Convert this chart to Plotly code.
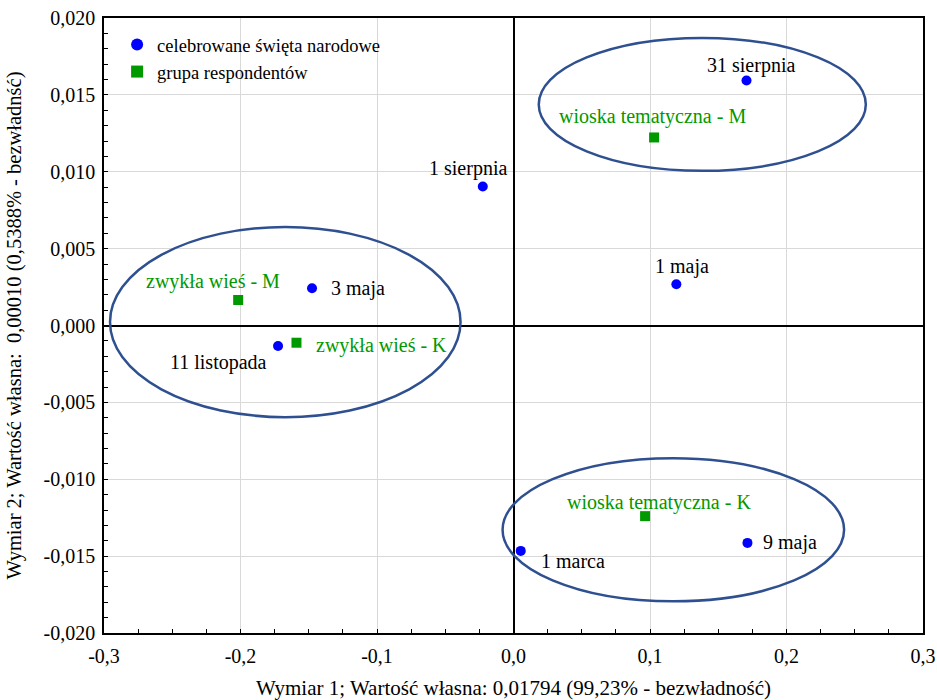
import plotly.graph_objects as go

# Data
holiday_names = ["31 sierpnia", "1 sierpnia", "1 maja", "3 maja", "11 listopada", "1 marca", "9 maja"]
holiday_x = [0.1707, -0.0225, 0.1193, -0.1476, -0.1725, 0.0053, 0.1714]
holiday_y = [0.01594, 0.00904, 0.00268, 0.00242, -0.00133, -0.01466, -0.01414]

group_names = ["wioska tematyczna - M", "zwykła wieś - M", "zwykła wieś - K", "wioska tematyczna - K"]
group_x = [0.1030, -0.2017, -0.1590, 0.0964]
group_y = [0.01223, 0.00166, -0.00112, -0.0124]

x_tickvals = [-0.3, -0.2, -0.1, 0.0, 0.1, 0.2, 0.3]
x_ticktext = ["-0,3", "-0,2", "-0,1", "0,0", "0,1", "0,2", "0,3"]
y_tickvals = [0.02, 0.015, 0.01, 0.005, 0.0, -0.005, -0.01, -0.015, -0.02]
y_ticktext = ["0,020", "0,015", "0,010", "0,005", "0,000", "-0,005", "-0,010", "-0,015", "-0,020"]

x_title = "Wymiar 1; Wartość własna: 0,01794 (99,23% - bezwładność)"
y_title = "Wymiar 2; Wartość własna:  0,00010 (0,5388% - bezwładnść)"

# cluster ellipses (x0, x1, y0, y1)
ellipses = [
    (0.0185, 0.2581, 0.01006, 0.0187),
    (-0.2956, -0.0388, -0.00596, 0.00641),
    (-0.0080, 0.2422, -0.01794, -0.00863),
]

# label placement styles: (xanchor, xshift, yshift)
holiday_label_style = [
    ("center", 4, 15),
    ("center", -15, 18),
    ("center", 6, 18),
    ("left", 17, 0),
    ("right", -9, -17),
    ("left", 18, -10),
    ("left", 14, 0),
]
group_label_style = [
    ("center", -2, 21),
    ("center", -25, 18),
    ("left", 18, -3),
    ("center", 14, 14),
]

FONT = "Liberation Serif"
BLUE = "#0000FF"
GREEN = "#009900"
ELL = "#2F5090"

fig = go.Figure()
fig.add_trace(go.Scatter(
    x=holiday_x, y=holiday_y, mode="markers", name="celebrowane święta narodowe",
    marker=dict(symbol="circle", size=10, color=BLUE)))
fig.add_trace(go.Scatter(
    x=group_x, y=group_y, mode="markers", name="grupa respondentów",
    marker=dict(symbol="square", size=10, color=GREEN)))

annotations = []
for n, x, y, (xa, xs, ys) in zip(holiday_names, holiday_x, holiday_y, holiday_label_style):
    annotations.append(dict(x=x, y=y, text=n, showarrow=False, xanchor=xa, yanchor="middle",
                            xshift=xs, yshift=ys, font=dict(family=FONT, size=20, color="black")))
for n, x, y, (xa, xs, ys) in zip(group_names, group_x, group_y, group_label_style):
    annotations.append(dict(x=x, y=y, text=n, showarrow=False, xanchor=xa, yanchor="middle",
                            xshift=xs, yshift=ys, font=dict(family=FONT, size=20, color=GREEN)))

shapes = []
for (x0, x1, y0, y1) in ellipses:
    shapes.append(dict(type="circle", xref="x", yref="y", x0=x0, x1=x1, y0=y0, y1=y1,
                       line=dict(color=ELL, width=2.5), layer="above"))

fig.update_layout(
    width=937, height=700,
    margin=dict(l=104, r=14, t=18, b=67),
    paper_bgcolor="white", plot_bgcolor="white",
    font=dict(family=FONT, size=20, color="black"),
    showlegend=True,
    legend=dict(x=0.016, y=0.987, xanchor="left", yanchor="top", bgcolor="rgba(0,0,0,0)",
                font=dict(family=FONT, size=18.5), tracegroupgap=0, itemsizing="constant"),
    annotations=annotations,
    shapes=shapes,
)
fig.update_xaxes(
    range=[-0.3, 0.3], tickvals=x_tickvals, ticktext=x_ticktext, automargin=False,
    showgrid=True, gridcolor="#D9D9D9", gridwidth=1,
    zeroline=True, zerolinecolor="black", zerolinewidth=1.5,
    showline=True, linecolor="black", linewidth=1.5, mirror=True,
    ticks="inside", ticklen=4, tickcolor="black", ticklabelstandoff=4,
    minor=dict(dtick=0.025, ticks="inside", ticklen=4, tickcolor="black", showgrid=False),
    tickfont=dict(family=FONT, size=20),
    title=dict(text=x_title, font=dict(family=FONT, size=21), standoff=16),
)
fig.update_yaxes(
    range=[-0.02, 0.02], tickvals=y_tickvals, ticktext=y_ticktext, automargin=False,
    showgrid=True, gridcolor="#D9D9D9", gridwidth=1,
    zeroline=True, zerolinecolor="black", zerolinewidth=1.5,
    showline=True, linecolor="black", linewidth=1.5, mirror=True,
    ticks="inside", ticklen=4, tickcolor="black", ticklabelstandoff=3,
    minor=dict(dtick=0.001, ticks="inside", ticklen=4, tickcolor="black", showgrid=False),
    tickfont=dict(family=FONT, size=20),
    title=dict(text=y_title, font=dict(family=FONT, size=20.5), standoff=16),
)

fig.write_html("out.html", config={"displayModeBar": False},
               post_script="document.body.style.margin='0';document.body.style.overflow='hidden';")
